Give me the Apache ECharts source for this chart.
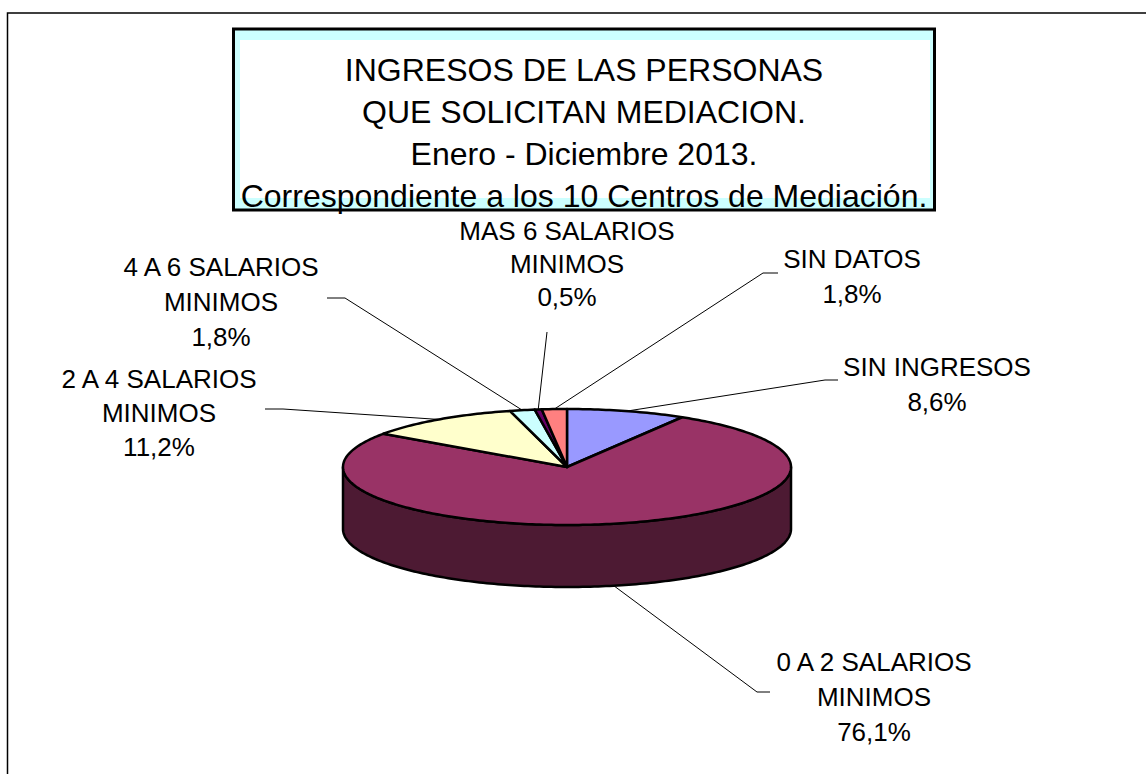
<!DOCTYPE html>
<html>
<head>
<meta charset="utf-8">
<title>Ingresos de las personas que solicitan mediación 2013</title>
<script src="https://cdn.jsdelivr.net/npm/echarts@6/dist/echarts.min.js"></script>
<style>
  html, body { margin: 0; padding: 0; background: #fff; }
  #chart { width: 1146px; height: 774px; }
</style>
</head>
<body>
<div id="chart"></div>
<script>
// Slices, clockwise from 12 o'clock (percent of total)
const categories = [
    'SIN INGRESOS',
    '0 A 2 SALARIOS MINIMOS',
    '2 A 4 SALARIOS MINIMOS',
    '4 A 6 SALARIOS MINIMOS',
    'MAS 6 SALARIOS MINIMOS',
    'SIN DATOS'
];
const values = [8.6, 76.1, 11.2, 1.8, 0.5, 1.8];
const colors = ['#9999FF', '#993366', '#FFFFCC', '#CCFFFF', '#660066', '#FF8080'];

const titleLines = [
    'INGRESOS DE LAS PERSONAS',
    'QUE SOLICITAN MEDIACION.',
    'Enero - Diciembre 2013.',
    'Correspondiente a los 10 Centros de Mediación.'
];

// Pie geometry (tilted ellipse)
const pie = { cx: 567, cy: 467, rx: 224, ry: 58, depth: 62 };

// Label placement: label centre, line height, leader elbow, leader tip
const labelAt = [[937, 384], [874, 697], [159, 413], [221, 302], [567, 264], [852, 276]];
const labelLineHeight = [35, 35, 34, 35, 33, 35];
const leaderElbow = [[825, 380], [757, 692], [283, 409], [345, 298], [547, 332], [763, 273]];
const leaderTip = [[838, 380], [770, 692], [265, 409], [327, 298], [547, 332], [778, 273]];

const FONT = '"Liberation Sans", Arial, sans-serif';

// Angles in degrees, clockwise from top
const total = values.reduce((s, v) => s + v, 0);
const startDeg = [];
const endDeg = [];
let acc = 0;
values.forEach(v => {
    startDeg.push(acc / total * 360);
    acc += v;
    endDeg.push(acc / total * 360);
});

function pt(deg, dy) {
    const r = deg * Math.PI / 180;
    return [pie.cx + pie.rx * Math.sin(r), pie.cy - pie.ry * Math.cos(r) + dy];
}

// Points along the ellipse from a to b (either direction)
function arc(a, b, dy) {
    const pts = [];
    const n = Math.max(2, Math.ceil(Math.abs(b - a)));
    for (let k = 0; k <= n; k++) {
        pts.push(pt(a + (b - a) * k / n, dy));
    }
    return pts;
}

function shade(hex) {
    const n = parseInt(hex.slice(1), 16);
    const r = Math.round(((n >> 16) & 255) * 0.5);
    const g = Math.round(((n >> 8) & 255) * 0.5);
    const b = Math.round((n & 255) * 0.5);
    return 'rgb(' + r + ',' + g + ',' + b + ')';
}

function labelText(i) {
    return categories[i].replace(' MINIMOS', '\nMINIMOS') + '\n' +
        values[i].toFixed(1).replace('.', ',') + '%';
}

// Front wall of each slice (only the half facing the viewer)
function renderSide(params) {
    const i = params.dataIndex;
    const a = Math.max(startDeg[i], 90);
    const b = Math.min(endDeg[i], 270);
    if (b <= a) return { type: 'group', children: [] };
    const pts = arc(a, b, 0).concat(arc(b, a, pie.depth));
    return {
        type: 'polygon',
        shape: { points: pts },
        style: { fill: shade(colors[i]), stroke: '#000', lineWidth: 2.5, lineJoin: 'round' }
    };
}

// Top face of each slice
function renderTop(params) {
    const i = params.dataIndex;
    const pts = [[pie.cx, pie.cy]].concat(arc(startDeg[i], endDeg[i], 0));
    return {
        type: 'polygon',
        shape: { points: pts },
        style: { fill: colors[i], stroke: '#000', lineWidth: 2.5, lineJoin: 'round' }
    };
}

// Leader line and data label
function renderLabel(params) {
    const i = params.dataIndex;
    const mid = (startDeg[i] + endDeg[i]) / 2;
    const front = mid > 90 && mid < 270;
    const edge = pt(mid, front ? pie.depth : 0);
    return {
        type: 'group',
        children: [
            {
                type: 'polyline',
                shape: { points: [edge, leaderElbow[i], leaderTip[i]] },
                style: { stroke: '#000', lineWidth: 1, fill: null }
            },
            {
                type: 'text',
                x: labelAt[i][0],
                y: labelAt[i][1],
                style: {
                    text: labelText(i),
                    fill: '#000',
                    fontSize: 26,
                    fontFamily: FONT,
                    lineHeight: labelLineHeight[i],
                    align: 'center',
                    textAlign: 'center',
                    verticalAlign: 'middle',
                    textVerticalAlign: 'middle'
                }
            }
        ]
    };
}

const chart = echarts.init(document.getElementById('chart'), null, { renderer: 'svg' });

const seriesData = values.map((v, i) => ({ name: categories[i], value: v }));

chart.setOption({
    animation: false,
    backgroundColor: '#fff',
    series: [
        { type: 'custom', coordinateSystem: 'none', z: 2, data: seriesData, renderItem: renderSide, silent: true },
        { type: 'custom', coordinateSystem: 'none', z: 3, data: seriesData, renderItem: renderTop, silent: true },
        { type: 'custom', coordinateSystem: 'none', z: 4, data: seriesData, renderItem: renderLabel, silent: true }
    ],
    graphic: [
        // Outer chart frame
        {
            type: 'rect', z: 1, silent: true,
            shape: { x: 7.5, y: 13, width: 1200, height: 800 },
            style: { fill: null, stroke: '#000', lineWidth: 1.5 }
        },
        // Title box
        {
            type: 'rect', z: 100, silent: true,
            shape: { x: 233.5, y: 29, width: 701, height: 181 },
            style: { fill: '#CCFFFF', stroke: '#000', lineWidth: 3 }
        },
        {
            type: 'rect', z: 101, silent: true,
            shape: { x: 240, y: 40, width: 690, height: 158 },
            style: { fill: '#fff' }
        },
        {
            type: 'text', z: 102, silent: true,
            x: 584, y: 133,
            style: {
                text: titleLines.join('\n'),
                fill: '#000',
                fontSize: 32,
                fontFamily: FONT,
                lineHeight: 42,
                align: 'center',
                textAlign: 'center',
                verticalAlign: 'middle',
                textVerticalAlign: 'middle'
            }
        }
    ]
});

window.addEventListener('resize', () => chart.resize());
</script>
</body>
</html>
